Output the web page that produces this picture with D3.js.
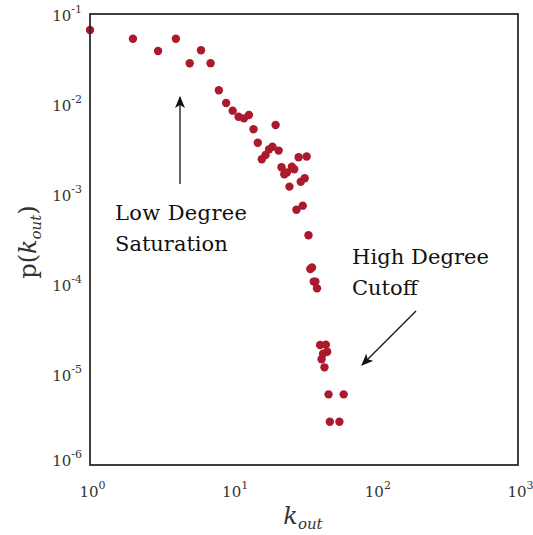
<!DOCTYPE html>
<html>
<head>
<meta charset="utf-8">
<script src="https://cdn.jsdelivr.net/npm/d3@7"></script>
<style>
body{margin:0;background:#fff;}
</style>
</head>
<body>
<svg id="c" width="533" height="535"></svg>
<script>
const kValues = [1,2,3,4,5,6,7,8,9,10,11,12,13,14,15,16,17,18,19,20,21,22,23,24,25,26,27,28,29,30,31,32,33,34,35,36,37,38,39,41,42,43,44,45,46,47,48,56,60];
const pValues = [0.0665,0.0532,0.0389,0.0532,0.0284,0.0396,0.0285,0.01426,0.0103,0.00848,0.00726,0.00697,0.00759,0.00527,0.00374,0.00245,0.00273,0.00316,0.00338,0.00589,0.00306,0.0020,0.00167,0.00175,0.00122,0.00203,0.00190,0.000676,0.00258,0.00138,0.00075,0.00151,0.00263,0.000352,0.000149,0.000155,0.000108,0.000108,0.0000909,0.0000214,0.0000149,0.0000171,0.0000121,0.0000216,0.0000180,0.00000607,0.00000302,0.00000302,0.00000607];
const xTicks = [1,10,100,1000];
const yTicks = [1e-1,1e-2,1e-3,1e-4,1e-5,1e-6];

const svg = d3.select("#c");
const L=90,R=518,T=14,B=465;
const x = d3.scaleLog().domain([1,1000]).range([L,R]);
const y = d3.scaleLog().domain([1e-6,1e-1]).range([B,T]);
const font = "'DejaVu Serif', serif";
const data = kValues.map((k,i)=>({k,p:pValues[i]}));

svg.append("g").selectAll("circle").data(data).join("circle")
  .attr("cx",d=>x(d.k)).attr("cy",d=>y(d.p)).attr("r",4.2)
  .attr("fill","#ab1a2c");

svg.append("rect").attr("x",L).attr("y",T).attr("width",R-L).attr("height",B-T)
  .attr("fill","none").attr("stroke","#2b2b2b").attr("stroke-width",1.8);

const xAxis = d3.axisBottom(x).tickValues(xTicks).tickSize(0).tickFormat("");
const gx = svg.append("g").attr("transform",`translate(0,${B})`).call(xAxis);
gx.select(".domain").remove();
gx.selectAll(".tick").each(function(d){
  const t = d3.select(this).append("text").attr("y",32).attr("x",2).attr("text-anchor","middle")
    .attr("font-family",font).attr("font-size",15).attr("fill","#333");
  t.append("tspan").text("10");
  t.append("tspan").attr("dy",-8).attr("font-size",11).text(Math.round(Math.log10(d)));
});
const yAxis = d3.axisLeft(y).tickValues(yTicks).tickSize(0).tickFormat("");
const gy = svg.append("g").attr("transform",`translate(${L},0)`).call(yAxis);
gy.select(".domain").remove();
gy.selectAll(".tick").each(function(d){
  const t = d3.select(this).append("text").attr("x",-8).attr("y",d===1e-6?0:6).attr("text-anchor","end")
    .attr("font-family",font).attr("font-size",15).attr("fill","#333");
  t.append("tspan").text("10");
  t.append("tspan").attr("dy",-8).attr("font-size",11).text(Math.round(Math.log10(d)));
});

// axis titles
const xt = svg.append("text").attr("x",303).attr("y",524).attr("text-anchor","middle")
  .attr("font-family",font).attr("font-size",24).attr("fill","#333");
xt.append("tspan").attr("font-style","italic").text("k");
xt.append("tspan").attr("font-style","italic").attr("font-size",15).attr("dy",5).text("out");

const yt = svg.append("text").attr("transform","translate(36,242) rotate(-90)").attr("text-anchor","middle")
  .attr("font-family",font).attr("font-size",24).attr("fill","#333");
yt.append("tspan").text("p(");
yt.append("tspan").attr("font-style","italic").text("k");
yt.append("tspan").attr("font-style","italic").attr("font-size",15).attr("dy",5).text("out");
yt.append("tspan").attr("dy",-5).text(")");

// annotations
svg.append("defs").append("marker").attr("id","ah").attr("viewBox","0 0 12 10")
  .attr("refX",11).attr("refY",5).attr("markerWidth",12).attr("markerHeight",10)
  .attr("markerUnits","userSpaceOnUse").attr("orient","auto")
  .append("path").attr("d","M0,0 L12,5 L0,10 L3,5 Z").attr("fill","#111");

svg.append("line").attr("x1",180).attr("y1",184).attr("x2",180).attr("y2",97)
  .attr("stroke","#111").attr("stroke-width",1.3).attr("marker-end","url(#ah)");
svg.append("line").attr("x1",416).attr("y1",311).attr("x2",362).attr("y2",365)
  .attr("stroke","#111").attr("stroke-width",1.3).attr("marker-end","url(#ah)");

const ann = [["Low Degree",115,220],["Saturation",115,251],["High Degree",352,264],["Cutoff",352,295]];
svg.selectAll("text.ann").data(ann).join("text").attr("class","ann")
  .attr("x",d=>d[1]).attr("y",d=>d[2]).attr("font-family",font).attr("font-size",21)
  .attr("textLength",d=>d[0]==="Low Degree"?132:d[0]==="High Degree"?137:null)
  .attr("fill","#111").text(d=>d[0]);
</script>
</body>
</html>
